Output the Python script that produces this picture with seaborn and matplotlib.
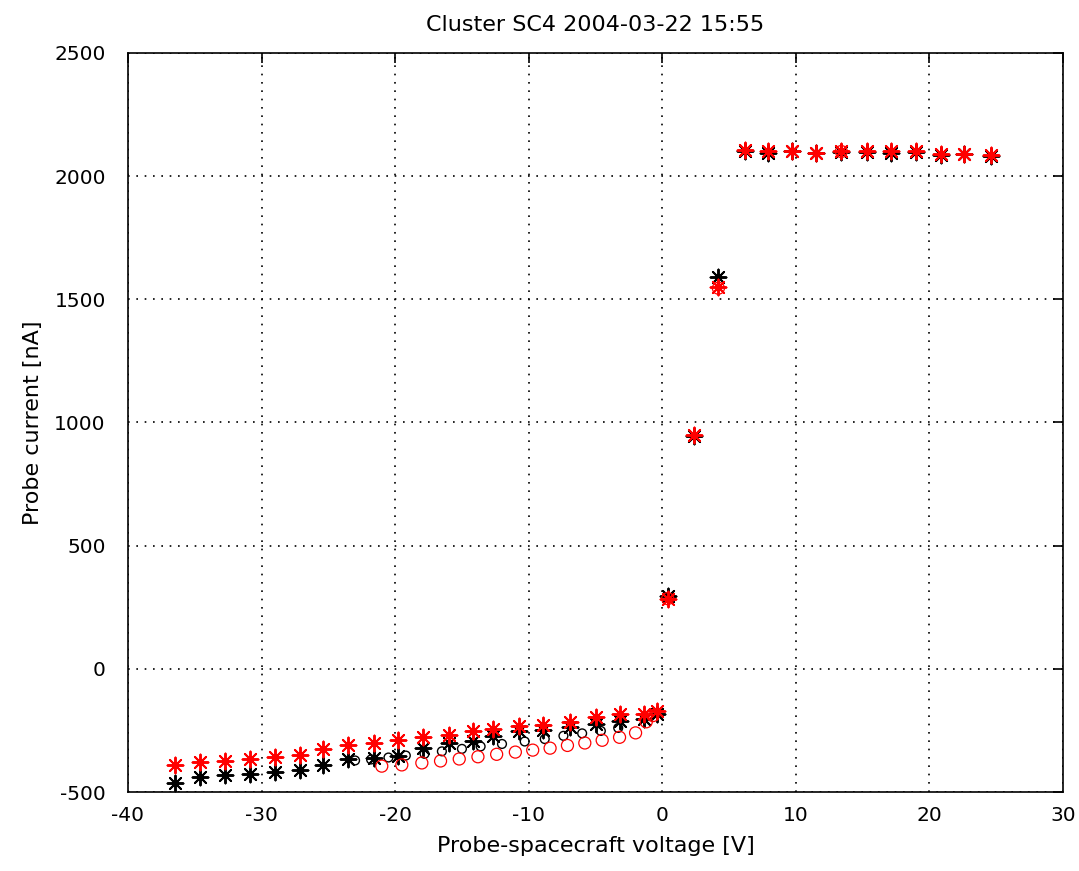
import numpy as np
import pandas as pd
import matplotlib
matplotlib.use("Agg")
import matplotlib.pyplot as plt
import seaborn as sns

# ---- data ----
v_stars = [-36.5, -34.6, -32.7, -30.9, -29.0, -27.1, -25.4, -23.5, -21.6, -19.8,
           -17.9, -16.0, -14.2, -12.7, -10.7, -8.9, -6.9, -5.0, -3.2, -1.4,
           -0.4, 0.4, 2.4, 4.2,
           6.2, 7.9, 9.7, 11.5, 13.4, 15.3, 17.1, 19.0, 20.9, 22.6, 24.6]
i_red = [-392, -380, -376, -368, -358, -350, -325, -310, -302, -290,
         -278, -268, -252, -246, -232, -228, -215, -195, -182, -185,
         -170, 285, 950, 1550,
         2105, 2100, 2100, 2095, 2100, 2100, 2100, 2100, 2090, 2090, 2085]
i_black = [-462, -440, -432, -426, -418, -410, -390, -365, -360, -352,
           -322, -300, -292, -272, -252, -248, -235, -222, -212, -205,
           -185, 295, 945, 1590,
           2102, 2095, 2100, 2095, 2098, 2098, 2095, 2098, 2085, 2088, 2080]

v_circ = [-21.0, -19.5, -18.0, -16.6, -15.2, -13.8, -12.4, -11.0, -9.7, -8.4,
          -7.1, -5.8, -4.5, -3.2, -2.0, -1.2, -0.7, 0.4, 4.2, 13.4]
i_circ = [-395, -390, -382, -374, -366, -357, -347, -338, -330, -322,
          -311, -301, -290, -278, -260, -215, -190, 285, 1545, 2100]

v_bcirc = [-23.0, -21.8, -20.5, -19.2, -17.8, -16.5, -15.0, -13.6, -12.0, -10.3,
           -8.8, -7.4, -6.0, -4.6, -3.3]
i_bcirc = [-372, -368, -360, -352, -345, -335, -325, -315, -305, -295,
           -285, -272, -262, -252, -240]

title = "Cluster SC4 2004-03-22 15:55"
xlabel = "Probe-spacecraft voltage [V]"
ylabel = "Probe current [nA]"
xticks = [-40, -30, -20, -10, 0, 10, 20, 30]
yticks = [-500, 0, 500, 1000, 1500, 2000, 2500]

# ---- figure ----
sns.set_theme(style="white")
plt.rcParams['font.family'] = ['DejaVu Sans']
fig = plt.figure(figsize=(10.79, 8.71), dpi=100)
ax = fig.add_axes([0.1186, 0.0907, 0.8666, 0.8485])

stars = (8, 2, 0)
df_s = pd.DataFrame({"v": v_stars, "red": i_red, "black": i_black})
sns.scatterplot(data=df_s, x="v", y="black", marker=stars, color="black",
                s=130, linewidth=1.4, ax=ax, zorder=3)
sns.scatterplot(x=v_bcirc, y=i_bcirc, marker="o", facecolor="none",
                edgecolor="black", s=40, linewidth=1.0, ax=ax, zorder=3)
sns.scatterplot(x=v_circ, y=i_circ, marker="o", facecolor="none",
                edgecolor="red", s=75, linewidth=0.9, ax=ax, zorder=4)
sns.scatterplot(data=df_s, x="v", y="red", marker=stars, color="red",
                s=130, linewidth=1.4, ax=ax, zorder=5)

ax.set_xlim(-40, 30)
ax.set_ylim(-500, 2500)
ax.set_xticks(xticks)
ax.set_yticks(yticks)
ax.set_xticklabels([str(t) for t in xticks])
ax.set_yticklabels([str(t) for t in yticks])

ax.grid(True, color="black", linestyle=(0, (1, 4)), linewidth=1.2)
ax.set_axisbelow(True)
for sp in ax.spines.values():
    sp.set_visible(True)
    sp.set_color("black")
    sp.set_linewidth(1.2)

ax.tick_params(direction="in", length=7, width=1.2, top=True, right=True,
               labelsize=14.5, colors="black")
ax.tick_params(axis="y", pad=16)
ax.tick_params(axis="x", pad=10)
ax.set_title(title, fontsize=16, pad=16, color="black")
ax.set_xlabel(xlabel, fontsize=16, labelpad=8, color="black")
ax.set_ylabel(ylabel, fontsize=16, labelpad=8, color="black")

fig.savefig("out.png", dpi=100, facecolor="white")
